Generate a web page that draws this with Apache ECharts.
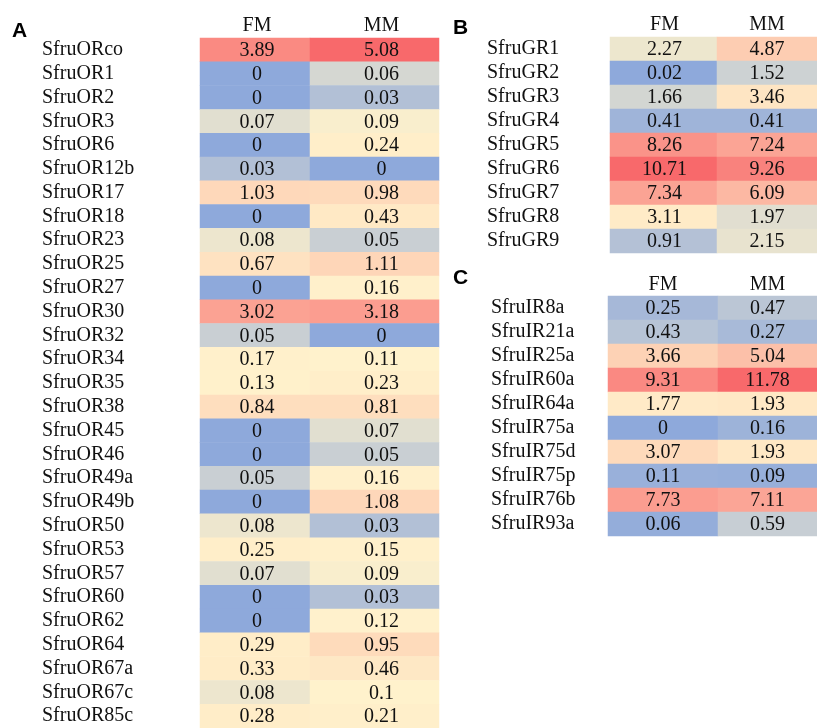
<!DOCTYPE html>
<html>
<head>
<meta charset="utf-8">
<script src="https://cdn.jsdelivr.net/npm/echarts/dist/echarts.min.js"></script>
<style>
  html, body { margin: 0; padding: 0; background: #ffffff; }
  #chart { width: 817px; height: 728px; }
</style>
</head>
<body>
<div id="chart"></div>
<script>
// Odorant receptors (panel A)
const orGenes = ['SfruORco', 'SfruOR1', 'SfruOR2', 'SfruOR3', 'SfruOR6', 'SfruOR12b', 'SfruOR17', 'SfruOR18',
  'SfruOR23', 'SfruOR25', 'SfruOR27', 'SfruOR30', 'SfruOR32', 'SfruOR34', 'SfruOR35', 'SfruOR38', 'SfruOR45',
  'SfruOR46', 'SfruOR49a', 'SfruOR49b', 'SfruOR50', 'SfruOR53', 'SfruOR57', 'SfruOR60', 'SfruOR62', 'SfruOR64',
  'SfruOR67a', 'SfruOR67c', 'SfruOR85c'];
const orFM = [3.89, 0, 0, 0.07, 0, 0.03, 1.03, 0, 0.08, 0.67, 0, 3.02, 0.05, 0.17, 0.13, 0.84, 0, 0, 0.05, 0,
  0.08, 0.25, 0.07, 0, 0, 0.29, 0.33, 0.08, 0.28];
const orMM = [5.08, 0.06, 0.03, 0.09, 0.24, 0, 0.98, 0.43, 0.05, 1.11, 0.16, 3.18, 0, 0.11, 0.23, 0.81, 0.07,
  0.05, 0.16, 1.08, 0.03, 0.15, 0.09, 0.03, 0.12, 0.95, 0.46, 0.1, 0.21];

// Gustatory receptors (panel B)
const grGenes = ['SfruGR1', 'SfruGR2', 'SfruGR3', 'SfruGR4', 'SfruGR5', 'SfruGR6', 'SfruGR7', 'SfruGR8', 'SfruGR9'];
const grFM = [2.27, 0.02, 1.66, 0.41, 8.26, 10.71, 7.34, 3.11, 0.91];
const grMM = [4.87, 1.52, 3.46, 0.41, 7.24, 9.26, 6.09, 1.97, 2.15];

// Ionotropic receptors (panel C)
const irGenes = ['SfruIR8a', 'SfruIR21a', 'SfruIR25a', 'SfruIR60a', 'SfruIR64a', 'SfruIR75a', 'SfruIR75d',
  'SfruIR75p', 'SfruIR76b', 'SfruIR93a'];
const irFM = [0.25, 0.43, 3.66, 9.31, 1.77, 0, 3.07, 0.11, 7.73, 0.06];
const irMM = [0.47, 0.27, 5.04, 11.78, 1.93, 0.16, 1.93, 0.09, 7.11, 0.59];

const tissues = ['FM', 'MM'];

// Three-colour scale: min -> blue, median -> pale yellow, max -> red
function median(arr) {
  const s = [...arr].sort((a, b) => a - b);
  const h = (s.length - 1) * 0.5;
  const lo = Math.floor(h);
  const hi = Math.min(lo + 1, s.length - 1);
  return s[lo] + (h - lo) * (s[hi] - s[lo]);
}
function makeScale(values) {
  const min = Math.min(...values), max = Math.max(...values), mid = median(values);
  return v => v <= mid ? 0.5 * (v - min) / (mid - min) : 0.5 + 0.5 * (v - mid) / (max - mid);
}

const ROW_H = 24;
const FONT = '"Liberation Serif", "Times New Roman", serif';

// Panel layout: column boxes and text placement
const panels = [
  { genes: orGenes, cols: [orFM, orMM], top: 38, lefts: [200, 310], widths: [110, 129],
    textShift: [2, 7], nameMargin: 158, headMargin: 12 },
  { genes: grGenes, cols: [grFM, grMM], top: 37, lefts: [610, 717], widths: [107, 110],
    textShift: [1, 0], nameMargin: 123, headMargin: 12 },
  { genes: irGenes, cols: [irFM, irMM], top: 296, lefts: [608, 718], widths: [110, 110],
    textShift: [0, 0], nameMargin: 117, headMargin: 11 }
];

const grid = [], xAxis = [], yAxis = [], series = [];
panels.forEach(p => {
  const scale = makeScale(p.cols[0].concat(p.cols[1]));
  p.cols.forEach((vals, c) => {
    const idx = grid.length;
    grid.push({ left: p.lefts[c], width: p.widths[c], top: p.top, height: p.genes.length * ROW_H });
    xAxis.push({
      type: 'category', gridIndex: idx, data: [tissues[c]], position: 'top',
      axisLine: { show: false }, axisTick: { show: false }, splitLine: { show: false },
      axisLabel: { color: '#111', fontFamily: FONT, fontSize: 20, margin: p.headMargin,
        verticalAlign: 'middle', padding: [0, 0, 0, p.textShift[c] * 2] }
    });
    yAxis.push({
      type: 'category', gridIndex: idx, data: p.genes, inverse: true,
      axisLine: { show: false }, axisTick: { show: false }, splitLine: { show: false },
      axisLabel: { show: c === 0, interval: 0, color: '#111', fontFamily: FONT, fontSize: 20,
        align: 'left', margin: p.nameMargin }
    });
    series.push({
      type: 'heatmap', xAxisIndex: idx, yAxisIndex: idx,
      data: vals.map((v, r) => [0, r, v, scale(v)]),
      itemStyle: { borderWidth: 0 },
      label: { show: true, color: '#111', fontFamily: FONT, fontSize: 20,
        offset: [p.textShift[c], 1], formatter: d => String(d.value[2]) },
      emphasis: { disabled: true }
    });
  });
});

const chart = echarts.init(document.getElementById('chart'), null, { renderer: 'canvas' });
chart.setOption({
  animation: false,
  backgroundColor: '#ffffff',
  grid, xAxis, yAxis, series,
  visualMap: {
    type: 'continuous', show: false, dimension: 3, min: 0, max: 1,
    seriesIndex: series.map((s, i) => i),
    inRange: { color: ['#8EA9DB', '#FFF2CC', '#F8696B'] }
  },
  graphic: [
    { type: 'text', left: 12, top: 21, style: { text: 'A', font: 'bold 21px "Liberation Sans", Arial, sans-serif', fill: '#000' } },
    { type: 'text', left: 453, top: 18, style: { text: 'B', font: 'bold 21px "Liberation Sans", Arial, sans-serif', fill: '#000' } },
    { type: 'text', left: 453, top: 268, style: { text: 'C', font: 'bold 21px "Liberation Sans", Arial, sans-serif', fill: '#000' } }
  ]
});
</script>
</body>
</html>
